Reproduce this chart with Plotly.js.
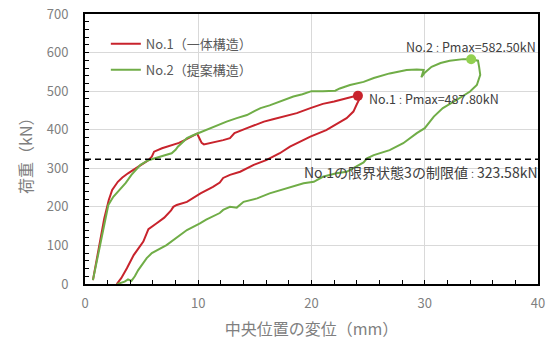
<!DOCTYPE html>
<html>
<head>
<meta charset="utf-8">
<script src="https://cdn.plot.ly/plotly-3.0.1.min.js"></script>
<style>html,body{margin:0;padding:0;background:#fff;}#chart{width:549px;height:340px;}</style>
</head>
<body>
<div id="chart"></div>
<script>
// No.1 (一体構造) displacement (mm) and load (kN): loading then unloading
const no1Disp = [0.7,1.0,1.3,1.7,2.1,2.4,2.9,3.3,3.8,4.3,4.7,5.2,5.6,5.9,6.1,6.8,7.8,8.3,8.8,9.3,9.7,9.9,10.1,10.3,10.5,11.0,11.6,12.2,12.8,13.0,13.2,14.3,15.0,15.8,16.6,17.5,18.7,19.9,21.0,22.0,22.5,23.2,23.7,24.1,
  24.2,24.0,23.7,23.1,22.5,21.6,21.3,19.9,18.1,17.2,16.0,14.9,13.7,12.8,12.2,11.9,11.3,10.2,9.0,8.1,7.8,7.6,7.0,6.3,5.6,5.15,4.3,3.7,3.2,2.8];
const no1Load = [10,58,105,170,218,244,265,276,287,296,304,313,321,330,343,352,360,366,373,380,386,390,378,366,362,365,369,373,378,386,391,404,412,421,427,434,443,456,467,473,477,482,486,487.8,
  478,466,447,430,420,404,399,382,356,339,321,309,291,283,275,263,252,235,213,205,200,191,172,157,142,110,75,41,15,0];

// No.2 (提案構造)
const no2Disp = [0.7,1.0,1.5,2.06,2.5,3.2,3.6,4.1,4.5,4.9,5.6,6.5,7.2,7.65,8.0,8.2,8.8,9.0,9.5,10.0,10.2,11.2,12.1,12.5,13.4,14.3,15.0,15.5,16.3,17.2,18.4,19.2,20.0,21.0,22.1,22.5,23.4,24.6,25.5,26.9,28.4,29.3,29.9,29.7,30.0,30.6,31.4,32.2,33.4,34.1,
  34.7,34.8,34.9,34.6,34.0,32.8,31.6,30.8,30.0,29.3,28.1,26.9,25.5,24.9,24.6,23.1,22.2,21.0,20.2,19.3,17.8,16.3,15.2,14.0,13.4,12.8,12.2,11.9,10.7,10.15,9.0,7.2,5.9,5.45,4.7,4.4,4.1,3.8,3.5,2.85];
const no2Load = [10,55,131,205,226,248,262,283,296,309,321,330,335,339,348,356,373,378,385,391,395,406,417,421,430,438,449,456,463,473,486,492,500,500,501,507,516,524,534,546,555,556,555,536,548,563,573,579,583,582.5,
  579,563,542,516,499,477,456,434,404,391,365,347,334,326,315,291,287,278,265,261,248,235,222,213,198,200,192,184,167,157,140,101,80,67,36,20,8,12,6,0];

// Peak points and limit value
const peak1 = {disp: 24.1, load: 487.80};
const peak2 = {disp: 34.1, load: 582.50};
const limitValue = 323.58;
const xRange = [0, 40];
const yRange = [0, 700];
const seriesNames = ['No.1（一体構造）', 'No.2（提案構造）'];
const xTitle = '中央位置の変位（mm）';
const yTitle = '荷重（kN）';

const red = '#C8232C';
const green = '#70AD47';
const font = '"Noto Sans CJK JP", "Noto Sans", sans-serif';
const colon = '<span style="font-size:9px">：</span>';

const traces = [
  {x: no1Disp, y: no1Load, mode: 'lines', name: seriesNames[0], legendgroup: 'a',
   line: {color: red, width: 2}},
  {x: no2Disp, y: no2Load, mode: 'lines', name: seriesNames[1], legendgroup: 'b',
   line: {color: green, width: 2}},
  {x: xRange, y: [limitValue, limitValue], mode: 'lines', showlegend: false,
   line: {color: '#000', width: 1.5, dash: '6px,4px'}},
  {x: [peak1.disp], y: [peak1.load], mode: 'markers', showlegend: false,
   marker: {color: red, size: 10}},
  {x: [peak2.disp], y: [peak2.load], mode: 'markers', showlegend: false,
   marker: {color: '#92D050', size: 10}}
];

const axisCommon = {
  showline: true, linecolor: '#000', linewidth: 2, mirror: true,
  showgrid: true, gridcolor: '#d9d9d9', gridwidth: 1, zeroline: false,
  ticks: 'inside', tickcolor: '#000', ticklen: 4, tickwidth: 1, automargin: false,
  tickfont: {family: font, size: 13, color: '#7f7f7f'}
};

const layout = {
  width: 549, height: 340,
  margin: {l: 85, r: 11, t: 14, b: 56},
  paper_bgcolor: '#fff', plot_bgcolor: '#fff',
  font: {family: font},
  showlegend: true,
  legend: {x: 0.046, y: 0.945, xanchor: 'left', yanchor: 'top', bgcolor: 'rgba(0,0,0,0)',
           traceorder: 'grouped', tracegroupgap: 6,
           font: {family: font, size: 13, color: '#595959'}},
  xaxis: Object.assign({}, axisCommon, {
    range: xRange, dtick: 10, tick0: 0, ticklabelstandoff: 6,
    minor: {dtick: 2, ticks: 'inside', ticklen: 4, tickcolor: '#000', showgrid: false},
    title: {text: xTitle, font: {family: font, size: 16, color: '#7f7f7f'}}
  }),
  yaxis: Object.assign({}, axisCommon, {
    range: yRange, dtick: 100, tick0: 0, ticklabelstandoff: 12,
    minor: {dtick: 20, ticks: 'inside', ticklen: 4, tickcolor: '#000', showgrid: false}
  }),
  annotations: [
    {x: -0.1325, y: 0.489, xref: 'paper', yref: 'paper', xanchor: 'center', yanchor: 'middle',
     text: yTitle, textangle: -90, showarrow: false,
     font: {family: font, size: 16, color: '#7f7f7f'}},
    {x: peak1.disp + 0.8, y: peak1.load - 6, xref: 'x', yref: 'y', xanchor: 'left', yanchor: 'middle',
     text: 'No.1' + colon + 'Pmax=' + peak1.load.toFixed(2) + 'kN', showarrow: false,
     font: {family: font, size: 12.5, color: '#404040'}},
    {x: 28.17, y: 614.5, xref: 'x', yref: 'y', xanchor: 'left', yanchor: 'middle',
     text: 'No.2' + colon + 'Pmax=' + peak2.load.toFixed(2) + 'kN', showarrow: false,
     font: {family: font, size: 12.5, color: '#404040'}},
    {x: 19.16, y: 290, xref: 'x', yref: 'y', xanchor: 'left', yanchor: 'middle',
     text: 'No.1の限界状態3の制限値' + colon + limitValue.toFixed(2) + 'kN', showarrow: false,
     font: {family: font, size: 14, color: '#404040'}}
  ]
};

Plotly.newPlot('chart', traces, layout, {staticPlot: true, displayModeBar: false});
</script>
</body>
</html>
